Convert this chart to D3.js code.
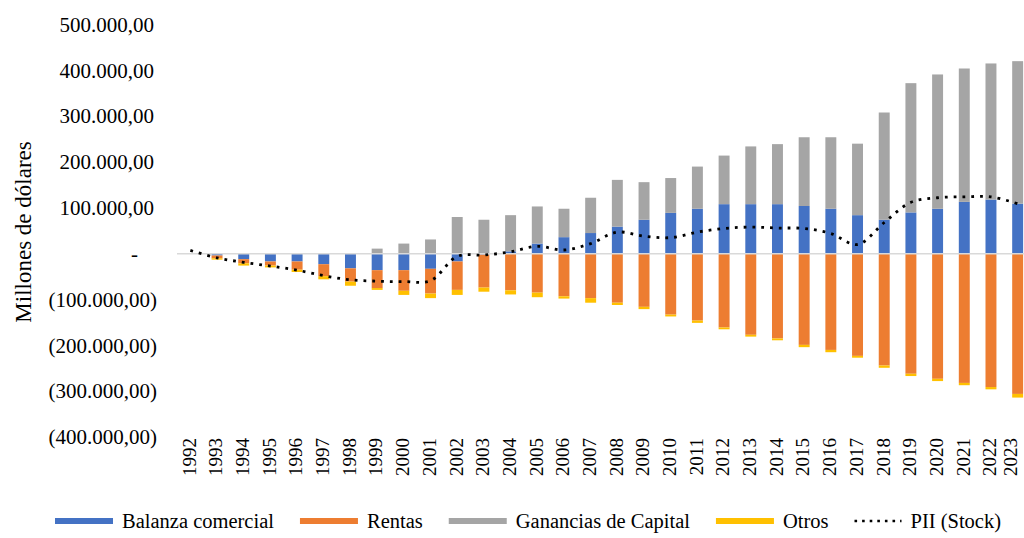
<!DOCTYPE html>
<html lang="es">
<head>
<meta charset="utf-8">
<title>Componentes de la PII</title>
<script src="https://cdn.jsdelivr.net/npm/d3@7"></script>
<style>
  html, body { margin: 0; padding: 0; background: #ffffff; }
  svg { display: block; }
  text { font-family: "Liberation Serif", "Times New Roman", serif; fill: #000; }
</style>
</head>
<body>
<svg id="chart" width="1024" height="538"></svg>
<script>
// Años de la serie
const years = ["1992","1993","1994","1995","1996","1997","1998","1999","2000","2001",
  "2002","2003","2004","2005","2006","2007","2008","2009","2010","2011","2012","2013",
  "2014","2015","2016","2017","2018","2019","2020","2021","2022","2023"];

// Componentes (millones de dólares)
const balanzaComercial = [0, -4000, -12000, -17000, -17000, -23000, -32000, -36000, -36000, -33000,
  -17000, -2000, 5000, 22000, 36000, 45000, 59000, 74000, 89000, 98000, 108000, 108000,
  108000, 104000, 98000, 84000, 74000, 90000, 98000, 113000, 118000, 109000];
const rentas = [0, -6000, -9000, -9000, -18000, -26000, -29000, -39000, -45000, -54000,
  -62000, -72000, -80000, -85000, -93000, -97000, -107000, -116000, -133000, -146000, -161000, -177000,
  -185000, -199000, -210000, -223000, -244000, -262000, -273000, -282000, -291000, -306000];
const gananciasCapital = [0, 0, 0, 0, 0, 0, 0, 11000, 22000, 31000,
  80000, 74000, 79000, 81000, 62000, 77000, 102000, 82000, 76000, 92000, 106000, 126000,
  131000, 150000, 156000, 156000, 234000, 282000, 293000, 291000, 297000, 311000];
const otros = [0, -3000, -5000, -4000, -5000, -7000, -9000, -4000, -9000, -10000,
  -11000, -9000, -9000, -10000, -5000, -10000, -5000, -5000, -4000, -5000, -4000, -4000,
  -4000, -5000, -5000, -4000, -5000, -5000, -5000, -5000, -5000, -8000];
const piiStock = [7000, -9000, -19000, -27000, -36000, -48000, -57000, -60000, -61000, -59000,
  -6000, -3000, 4000, 16000, 8000, 22000, 47000, 38000, 35000, 47000, 55000, 58000,
  56000, 55000, 44000, 20000, 68000, 112000, 122000, 124000, 124000, 109000];

// Marcas del eje vertical
const yTicks = [-400000, -300000, -200000, -100000, 0, 100000, 200000, 300000, 400000, 500000];

const seriesNames = ["Balanza comercial", "Rentas", "Ganancias de Capital", "Otros"];
const seriesColors = ["#4472C4", "#ED7D31", "#A5A5A5", "#FFC000"];
const lineName = "PII (Stock)";
const axisTitle = "Millones de dólares";

// Tabla por año para el apilado
const table = years.map((yr, i) => ({
  year: yr,
  "Balanza comercial": balanzaComercial[i],
  "Rentas": rentas[i],
  "Ganancias de Capital": gananciasCapital[i],
  "Otros": otros[i]
}));

const W = 1024;
const svg = d3.select("#chart");

const x = d3.scaleBand()
  .domain(years)
  .range([177, 1031])
  .paddingInner(0.59)
  .paddingOuter(0.295);

const y = d3.scaleLinear()
  .domain([-400000, 500000])
  .range([437, 24.5]);

// Formato contable: 100.000,00 / (100.000,00) / -
const loc = d3.formatLocale({ decimal: ",", thousands: ".", grouping: [3], currency: ["", ""] });
const num = loc.format(",.2f");
const fmt = v => v === 0 ? "-" : (v < 0 ? "(" + num(-v) + ")" : num(v));

// Eje Y
const yAxis = svg.append("g")
  .attr("transform", "translate(157,0)")
  .call(d3.axisLeft(y).tickValues(yTicks).tickFormat(fmt).tickSize(0).tickPadding(0));
yAxis.select(".domain").remove();
yAxis.selectAll("text")
  .style("font-family", '"Liberation Serif", serif')
  .style("font-size", "21px")
  .attr("fill", "#000")
  .attr("x", d => d > 0 ? -3 : (d === 0 ? -19 : 0));

// Título del eje Y
svg.append("text")
  .attr("transform", "translate(31,232) rotate(-90)")
  .attr("text-anchor", "middle")
  .style("font-size", "23px")
  .text(axisTitle);

// Barras apiladas (positivas hacia arriba, negativas hacia abajo)
const stack = d3.stack().keys(seriesNames).offset(d3.stackOffsetDiverging);
const stacked = stack(table);

svg.append("g").selectAll("g")
  .data(stacked)
  .join("g")
  .attr("fill", (d, i) => seriesColors[i])
  .selectAll("rect")
  .data(d => d)
  .join("rect")
  .attr("x", d => x(d.data.year))
  .attr("width", x.bandwidth())
  .attr("y", d => y(Math.max(d[0], d[1])))
  .attr("height", d => Math.abs(y(d[0]) - y(d[1])));

// Línea del cero
svg.append("line")
  .attr("x1", x.range()[0]).attr("x2", x.range()[1])
  .attr("y1", y(0)).attr("y2", y(0))
  .attr("stroke", "#D9D9D9")
  .attr("stroke-width", 1.5);

// Línea PII (Stock)
const line = d3.line()
  .x((d, i) => x(years[i]) + x.bandwidth() / 2)
  .y(d => y(d))
  .curve(d3.curveCatmullRom.alpha(0.5));

svg.append("path")
  .datum(piiStock)
  .attr("d", line)
  .attr("fill", "none")
  .attr("stroke", "#000")
  .attr("stroke-width", 2.8)
  .attr("stroke-dasharray", "2.8,6");

// Etiquetas de años (verticales); la última se mantiene dentro del lienzo
const xAxis = svg.append("g")
  .attr("transform", "translate(0,438)")
  .call(d3.axisBottom(x).tickSize(0).tickPadding(0));
xAxis.select(".domain").remove();
xAxis.selectAll(".tick").each(function (d) {
  const cxTick = x(d) + x.bandwidth() / 2;
  const shift = Math.min(0, (W - 2) - (cxTick + 10));
  d3.select(this).select("text")
    .style("font-family", '"Liberation Serif", serif')
    .style("font-size", "19px")
    .attr("fill", "#000")
    .attr("text-anchor", "end")
    .attr("transform", `translate(${shift},0) rotate(-90)`)
    .attr("x", 0)
    .attr("y", 0)
    .attr("dy", "0.28em");
});

// Leyenda
const legend = svg.append("g").attr("transform", "translate(0,521)");
const legendItems = seriesNames.map((n, i) => ({ name: n, color: seriesColors[i], type: "bar" }))
  .concat([{ name: lineName, color: "#000", type: "line" }]);

let cx = 55;
legendItems.forEach(item => {
  const g = legend.append("g");
  const sw = item.type === "bar" ? 58 : 47;
  if (item.type === "bar") {
    g.append("rect").attr("x", cx).attr("y", -3).attr("width", sw).attr("height", 6).attr("fill", item.color);
  } else {
    g.append("line").attr("x1", cx).attr("x2", cx + sw).attr("y1", 0).attr("y2", 0)
      .attr("stroke", item.color).attr("stroke-width", 2.6).attr("stroke-dasharray", "2.6,5");
  }
  const t = g.append("text")
    .attr("x", cx + sw + 9)
    .attr("y", 0)
    .attr("dy", "0.35em")
    .style("font-size", "20.5px")
    .text(item.name);
  cx += sw + 9 + t.node().getComputedTextLength() + 26;
});
</script>
</body>
</html>
